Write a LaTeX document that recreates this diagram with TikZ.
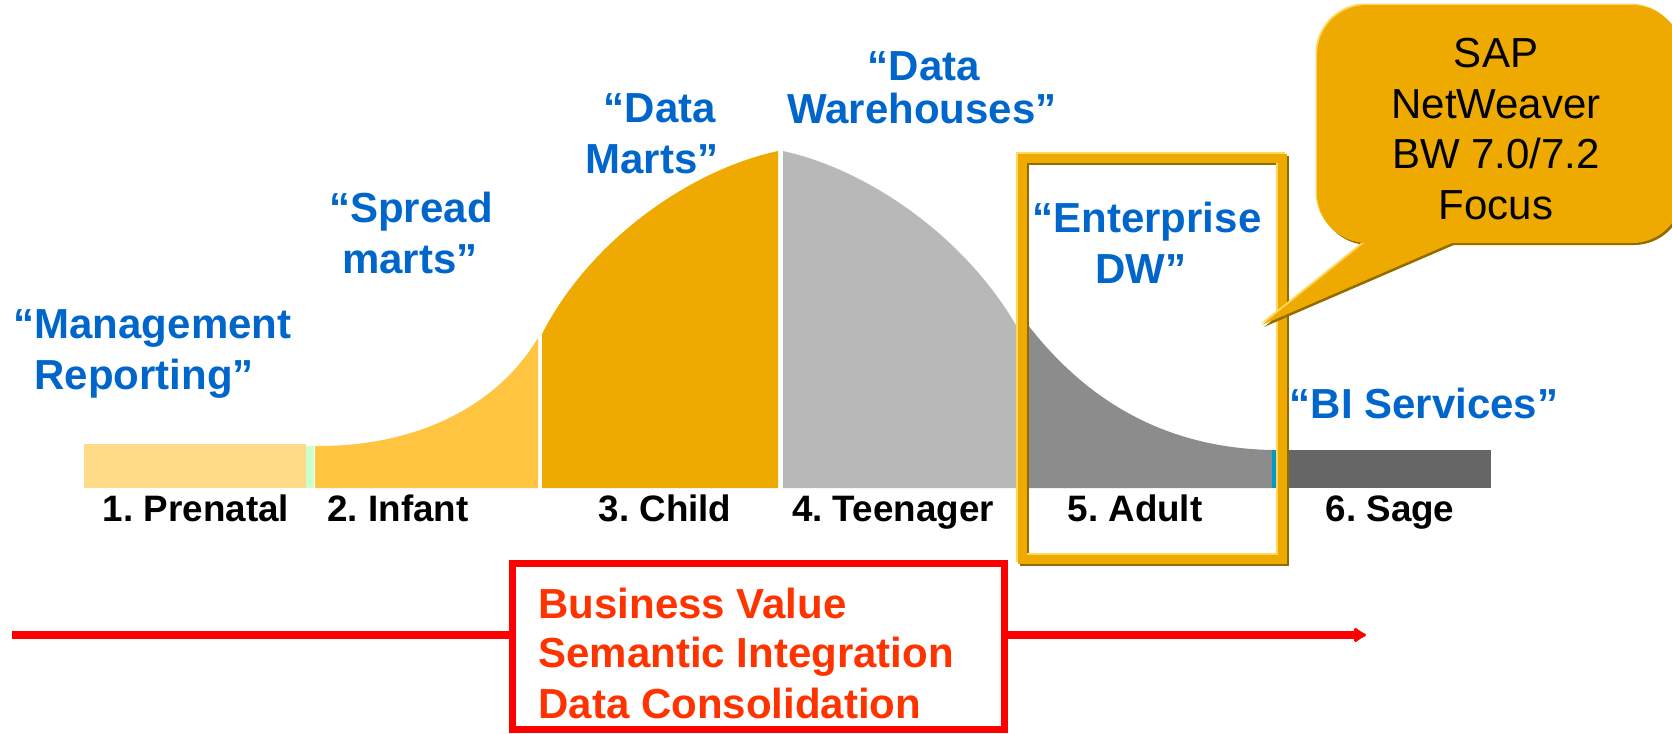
\documentclass[tikz,border=0pt]{standalone}
\usepackage{fontspec}
\setmainfont{Liberation Sans}
\usetikzlibrary{arrows.meta}
\frenchspacing
\definecolor{bluetxt}{HTML}{0066CC}
\definecolor{prenatal}{HTML}{FFDB88}
\definecolor{greenstrip}{HTML}{CCFFCC}
\definecolor{infant}{HTML}{FFC540}
\definecolor{gold}{HTML}{EEAA00}
\definecolor{teen}{HTML}{B8B8B8}
\definecolor{adult}{HTML}{8C8C8C}
\definecolor{sage}{HTML}{666666}
\definecolor{tickblue}{HTML}{0099CC}
\definecolor{bevdark}{HTML}{946B00}
\definecolor{bevlight}{HTML}{FFD75A}
\definecolor{redtxt}{HTML}{FF3300}
\definecolor{redline}{HTML}{FF0000}
\begin{document}
\begin{tikzpicture}[x=0.5pt,y=-0.5pt,
  phase/.style={font=\bfseries\fontsize{21pt}{25pt}\selectfont, text=bluetxt, anchor=base, inner sep=0pt},
  stage/.style={font=\bfseries\fontsize{18.4pt}{22pt}\selectfont, text=black, anchor=base, inner sep=0pt},
  valuetxt/.style={font=\bfseries\fontsize{21pt}{25pt}\selectfont, text=redtxt, anchor=base west, inner sep=0pt},
  callouttxt/.style={font=\fontsize{21pt}{25pt}\selectfont, text=black, anchor=base, inner sep=0pt},
  bvbox/.style={draw=redline, line width=3.5pt, fill=white, minimum width=246pt, minimum height=83pt, inner sep=0pt},
  redarrow/.style={draw=redline, line width=4pt},
]
\useasboundingbox (0,0) rectangle (1672,734);

% life-cycle curve
\fill[prenatal] (84,444) rectangle (306,488);
\fill[greenstrip] (306,446) rectangle (314,488);
\fill[infant] (315,488) -- (315,446) .. controls (405,447) and (492,414) .. (538,338) -- (538,488) -- cycle;
\fill[gold] (542,488) -- (542,334) .. controls (590,240) and (690,170) .. (778,151) -- (778,488) -- cycle;
\fill[teen] (783,488) -- (783,151) .. controls (870,170) and (970,240) .. (1021,334) -- (1021,488) -- cycle;
\fill[adult] (1028,488) -- (1028,325) .. controls (1090,405) and (1170,448) .. (1272,450) -- (1272,488) -- cycle;
\fill[tickblue] (1272,450) rectangle (1276,488);
\fill[sage] (1276,450) rectangle (1491,488);

% stage labels
\node[stage] (s1) at (196,521) {1. Prenatal};
\node[stage] (s2) at (398,521) {2. Infant};
\node[stage] (s3) at (665,521) {3. Child};
\node[stage] (s4) at (893,521) {4. Teenager};
\node[stage] (s5) at (1135,521) {5. Adult};
\node[stage] (s6) at (1390,521) {6. Sage};

% phase names
\node[phase] (p1a) at (152.5,338) {“Management};
\node[phase] (p1b) at (144,389) {Reporting”};
\node[phase] (p2a) at (411,222) {“Spread};
\node[phase] (p2b) at (410,273) {marts”};
\node[phase] (p3a) at (660,122) {“Data};
\node[phase] (p3b) at (652,173) {Marts”};
\node[phase] (p4a) at (924,80) {“Data};
\node[phase] (p4b) at (922,123) {Warehouses”};
\node[phase] (p5a) at (1147,232) {“Enterprise};
\node[phase] (p5b) at (1141,283) {DW”};
\node[phase] (p6) at (1424,418) {“BI Services”};

% focus frame around stage 5
\foreach \d/\c in {2/bevdark,-2/bevlight,0/gold}{
  \draw[\c, line width=4.5pt, shift={(\d,\d)}] (1022.5,158) rectangle (1282.5,559);
}

% business value box and arrow
\coordinate (arrowstart) at (12,635);
\coordinate (arrowend) at (1366,635);
\node[bvbox] (bv) at (758.5,646.5) {};
\draw[redarrow] (arrowstart) -- (arrowstart -| bv.west);
\draw[redarrow, -{Latex[length=7pt,width=9pt,round]}] (arrowstart -| bv.east) -- (arrowend);
\node[valuetxt] (v1) at (538,618) {Business Value};
\node[valuetxt] (v2) at (538,667) {Semantic Integration};
\node[valuetxt] (v3) at (538,718) {Data Consolidation};

% callout
\foreach \d/\c in {2/bevdark,-1.5/bevlight,0/gold}{
  \begin{scope}[shift={(\d,\d)}]
    \fill[\c, rounded corners=25pt] (1317,5) rectangle (1682,243);
    \fill[\c] (1373,236) -- (1262,325) -- (1468,236) -- cycle;
  \end{scope}
}
\node[callouttxt] (c1) at (1496,67) {SAP};
\node[callouttxt] (c2) at (1496,118) {NetWeaver};
\node[callouttxt] (c3) at (1496,168) {BW 7.0/7.2};
\node[callouttxt] (c4) at (1496,219) {Focus};
\end{tikzpicture}
\end{document}
